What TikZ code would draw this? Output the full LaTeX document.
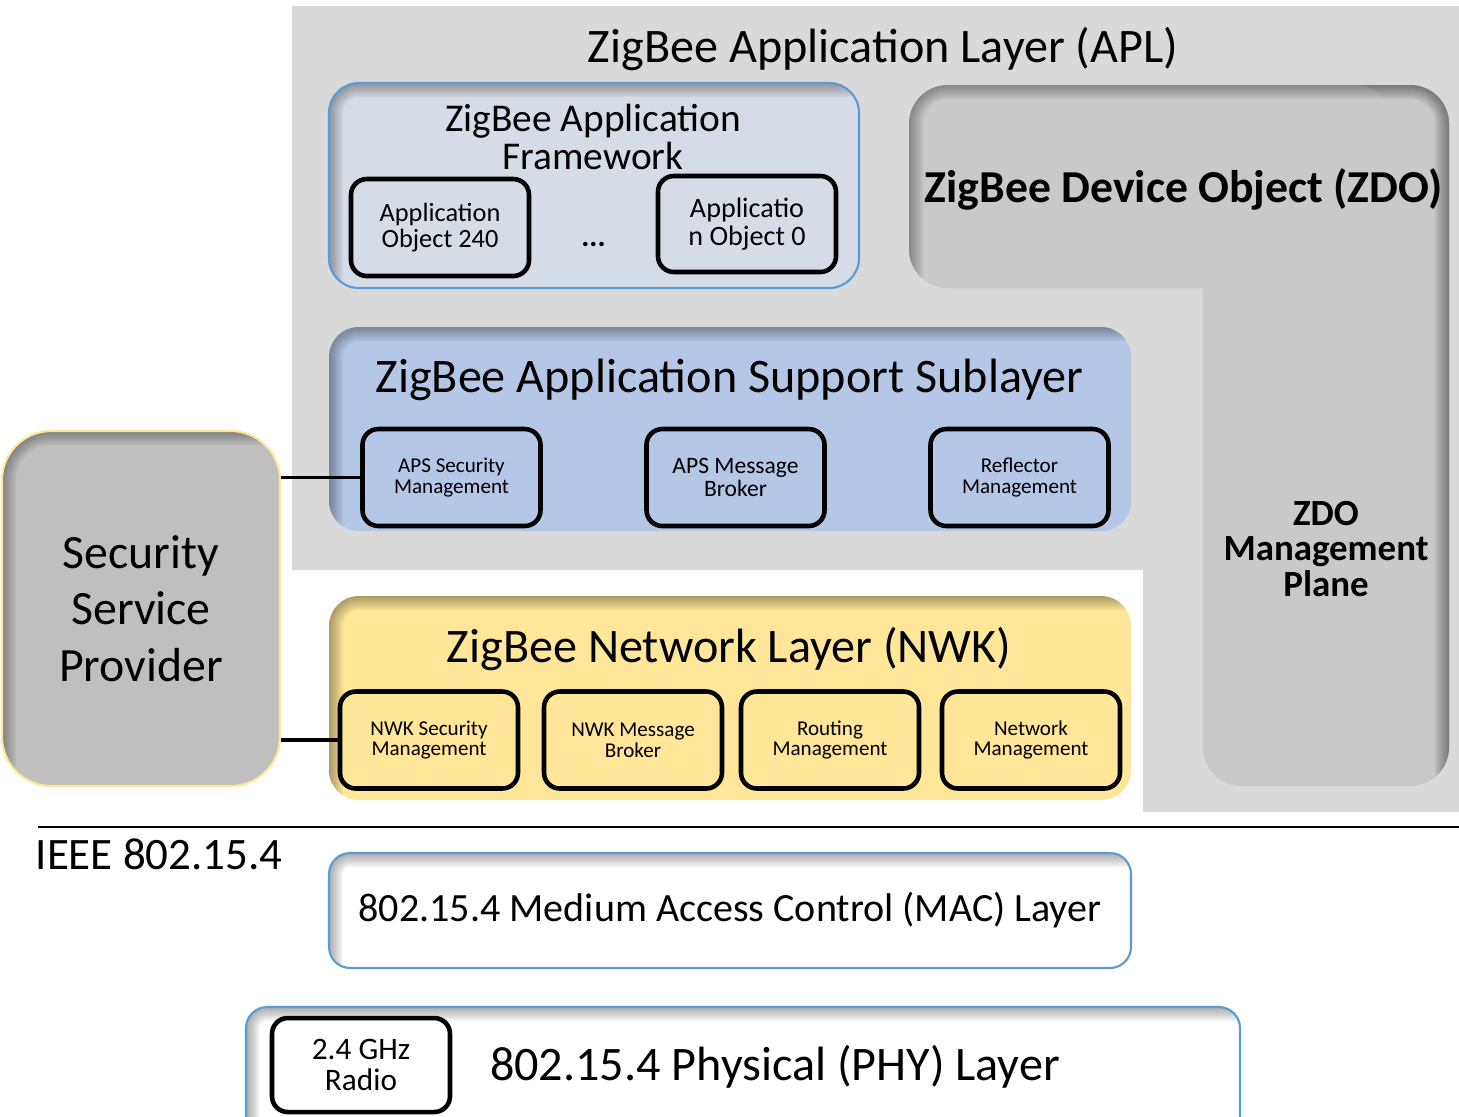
\documentclass[tikz,border=0pt]{standalone}
\usepackage{fontspec}
\setmainfont{Carlito}
\usetikzlibrary{positioning,calc}
\definecolor{aplgray}{HTML}{D9D9D9}
\definecolor{afblue}{HTML}{D6DCE5}
\definecolor{apsblue}{HTML}{B4C7E7}
\definecolor{nwkyellow}{HTML}{FFE699}
\definecolor{zdogray}{HTML}{C9C9C9}
\definecolor{sspgray}{HTML}{BFBFBF}
\definecolor{edgeblue}{HTML}{5B9BD5}
\newcommand{\fsz}[2]{\fontsize{#1}{#2}\selectfont}
\tikzset{
  % skuggor
  dent/.style={path picture={
    \foreach \w in {1,2,...,8}
      \draw[black,opacity=0.045,line width=\w pt,rounded corners=#1]
        (path picture bounding box.north west) rectangle
        ([shift={(25pt,-25pt)}]path picture bounding box.south east);}},
  dentr/.style={path picture={
    \foreach \w in {1,2,...,8}
      \draw[black,opacity=0.055,line width=\w pt,rounded corners=#1]
        ([shift={(-25pt,0pt)}]path picture bounding box.north west) rectangle
        ([shift={(0pt,-25pt)}]path picture bounding box.south east);}},
  % lager
  layer/.style={rounded corners=#1,inner sep=0pt,line width=0.6pt},
  blk/.style={draw=black,line width=1.3pt,rounded corners=4.5pt,inner sep=0pt,
              minimum width=1.78cm,minimum height=0.97cm,align=center,
              font=\fsz{6}{5.9}},
  ttl/.style={inner sep=0pt,font=\fsz{13.7}{16}},
  link/.style={draw=black,line width=0.9pt},
}
\begin{document}
\begin{tikzpicture}
\useasboundingbox (0,0) rectangle (14.59,-11.16);
  % APL
  \fill[aplgray] (2.92,-0.06) -- (14.59,-0.06) -- (14.59,-8.12) -- (11.43,-8.12)
    -- (11.43,-5.70) -- (2.92,-5.70) -- cycle;
  \node[ttl,anchor=base] (apl) at (8.83,-0.62) {ZigBee Application Layer (APL)};
  \node[layer=8.5pt,fill=afblue,draw=edgeblue,dent=8.5pt,minimum width=5.30cm,
        minimum height=2.05cm] (af) at (5.94,-1.855) {};
  \node[inner sep=0pt,align=center,font=\fsz{11.2}{10.8}] (aftitle) at (5.93,-1.37)
    {ZigBee Application\\Framework};
  \node[blk,font=\fsz{7.5}{7.2}] (obj240) at (4.40,-2.275) {Application\\Object 240};
  \node[inner sep=0pt,anchor=base,font=\bfseries\fsz{8.6}{10}] (dots) at (5.935,-2.46) {...};
  \node[blk,font=\fsz{8}{7.9},minimum height=0.96cm] (obj0) at (7.47,-2.24)
    {Applicatio\\n Object 0};
  % ZDO
  \node[layer=11pt,fill=zdogray,dentr=11pt,minimum width=2.46cm,minimum height=7.01cm]
    (plane) at (13.26,-4.355) {};
  \node[layer=11pt,fill=zdogray,dent=11pt,minimum width=4.84cm,minimum height=2.03cm]
    (zdo) at (11.51,-1.865) {};
  \node[inner sep=0pt,anchor=base,font=\bfseries\fsz{13}{15}] (zdotitle) at (11.84,-2.02)
    {ZigBee Device Object (ZDO)};
  \node[inner sep=0pt,align=center,font=\bfseries\fsz{10.5}{10.2}] (planetitle)
    at (13.26,-5.49) {ZDO\\Management\\Plane};
  % APS
  \node[layer=8.5pt,fill=apsblue,dent=8.5pt,minimum width=8.02cm,minimum height=2.04cm]
    (aps) at (7.30,-4.29) {};
  \node[ttl,anchor=base] (apstitle) at (7.295,-3.92) {ZigBee Application Support Sublayer};
  \node[blk] (apssec) at (4.515,-4.775) {APS Security\\Management};
  \node[blk,font=\fsz{6.7}{6.6}] (apsmsg) at (7.355,-4.775) {APS Message\\Broker};
  \node[blk] (reflect) at (10.195,-4.775) {Reflector\\Management};
  % NWK
  \node[layer=8.5pt,fill=nwkyellow,dent=8.5pt,minimum width=8.02cm,minimum height=2.04cm]
    (nwk) at (7.30,-6.98) {};
  \node[ttl,anchor=base] (nwktitle) at (7.29,-6.62) {ZigBee Network Layer (NWK)};
  \node[blk] (nwksec) at (4.29,-7.40) {NWK Security\\Management};
  \node[blk] (nwkmsg) at (6.33,-7.40) {NWK Message\\Broker};
  \node[blk] (routing) at (8.30,-7.40) {Routing\\Management};
  \node[blk] (netmgmt) at (10.31,-7.40) {Network\\Management};
  % SSP
  \node[layer=14pt,fill=sspgray,draw=nwkyellow,dent=14pt,minimum width=2.78cm,
        minimum height=3.55cm,align=center,font=\fsz{13.6}{16.1}] (ssp) at (1.41,-6.085)
    {Security\\Service\\Provider};
  \draw[link] (apssec.west -| ssp.east) -- (apssec.west);
  \draw[link] (nwksec.west -| ssp.east) -- (nwksec.west);
  % IEEE 802.15.4
  \draw[line width=0.6pt] (0.38,-8.27) -- (14.59,-8.27);
  \node[inner sep=0pt,anchor=base west,font=\fsz{12.8}{15}] (ieee) at (0.35,-8.69)
    {IEEE 802.15.4};
  \node[layer=6pt,fill=white,draw=edgeblue,dent=6pt,minimum width=8.02cm,
        minimum height=1.15cm,font=\fsz{11.4}{13}] (mac) at (7.30,-9.105)
    {802.15.4 Medium Access Control (MAC) Layer};
  \node[layer=6pt,fill=white,draw=edgeblue,dent=6pt,minimum width=9.94cm,
        minimum height=1.30cm] (phy) at (7.43,-10.72) {};
  \node[ttl,anchor=base] (phytitle) at (7.75,-10.80) {802.15.4 Physical (PHY) Layer};
  \node[blk,font=\fsz{8.9}{8.8},minimum height=0.94cm] (radio) at (3.61,-10.65)
    {2.4 GHz\\Radio};
\end{tikzpicture}
\end{document}
